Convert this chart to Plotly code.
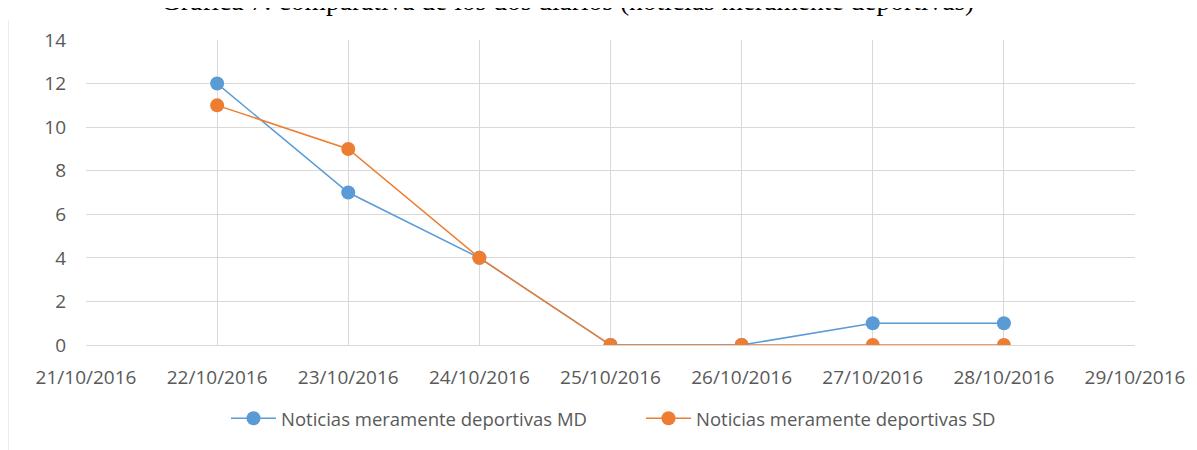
import plotly.graph_objects as go

dates = ["2016-10-22", "2016-10-23", "2016-10-24", "2016-10-25",
         "2016-10-26", "2016-10-27", "2016-10-28"]
md_values = [12, 7, 4, 0, 0, 1, 1]
sd_values = [11, 9, 4, 0, 0, 0, 0]
series_names = ["Noticias meramente deportivas MD", "Noticias meramente deportivas SD"]
title_text = "Gráfica 7: comparativa de los dos diarios (noticias meramente deportivas)"

blue = "#5B9BD5"
orange = "#ED7D31"
grid = "#D9D9D9"
txt = "#595959"
font_family = "Open Sans, Liberation Sans, sans-serif"

# figure sits inside an 8px page margin
L, T, PW, PH = 78, 32, 1049, 310
W, H = 1189, 442

fig = go.Figure()
fig.add_trace(go.Scatter(x=dates, y=md_values, mode="lines+markers", name=series_names[0],
                         line=dict(color=blue, width=1.5),
                         marker=dict(color=blue, size=14)))
fig.add_trace(go.Scatter(x=dates, y=sd_values, mode="lines+markers", name=series_names[1],
                         line=dict(color=orange, width=1.5),
                         marker=dict(color=orange, size=14)))

fig.update_layout(
    width=W, height=H,
    margin=dict(l=L, r=W - L - PW, t=T, b=H - T - PH, pad=0),
    paper_bgcolor="white", plot_bgcolor="white",
    showlegend=True,
    legend=dict(orientation="h", x=(641 - 86) / PW, xanchor="center",
                y=-75 / PH, yanchor="middle",
                font=dict(family=font_family, size=18.5, color=txt),
                entrywidth=355, itemwidth=45, tracegroupgap=0),
    xaxis=dict(type="date", range=["2016-10-21", "2016-10-29"],
               dtick=86400000, tick0="2016-10-21", tickformat="%d/%m/%Y",
               showgrid=True, gridcolor=grid, gridwidth=1,
               showline=False, zeroline=False, ticks="",
               ticklabelstandoff=19,
               tickfont=dict(family=font_family, size=19, color=txt)),
    yaxis=dict(range=[0, 14], dtick=2, showgrid=True, gridcolor=grid, gridwidth=1,
               zeroline=True, zerolinecolor=grid, zerolinewidth=1,
               showline=False, ticks="", ticklabelstandoff=19,
               tickfont=dict(family=font_family, size=19, color=txt)),
)

fig.add_annotation(text=title_text, xref="paper", yref="paper",
                   x=(567 - 86) / PW, y=(T + PH + 8) / PH, xanchor="center", yanchor="middle",
                   showarrow=False,
                   font=dict(family="Liberation Serif, Times New Roman, serif", size=27.5, color="black"))

fig.add_shape(type="line", xref="paper", yref="paper",
              x0=-L / PW, x1=-L / PW,
              y0=(T + PH - 12) / PH, y1=(T + PH - H - 10) / PH,
              line=dict(color=grid, width=1))

fig.write_html("out.html")
